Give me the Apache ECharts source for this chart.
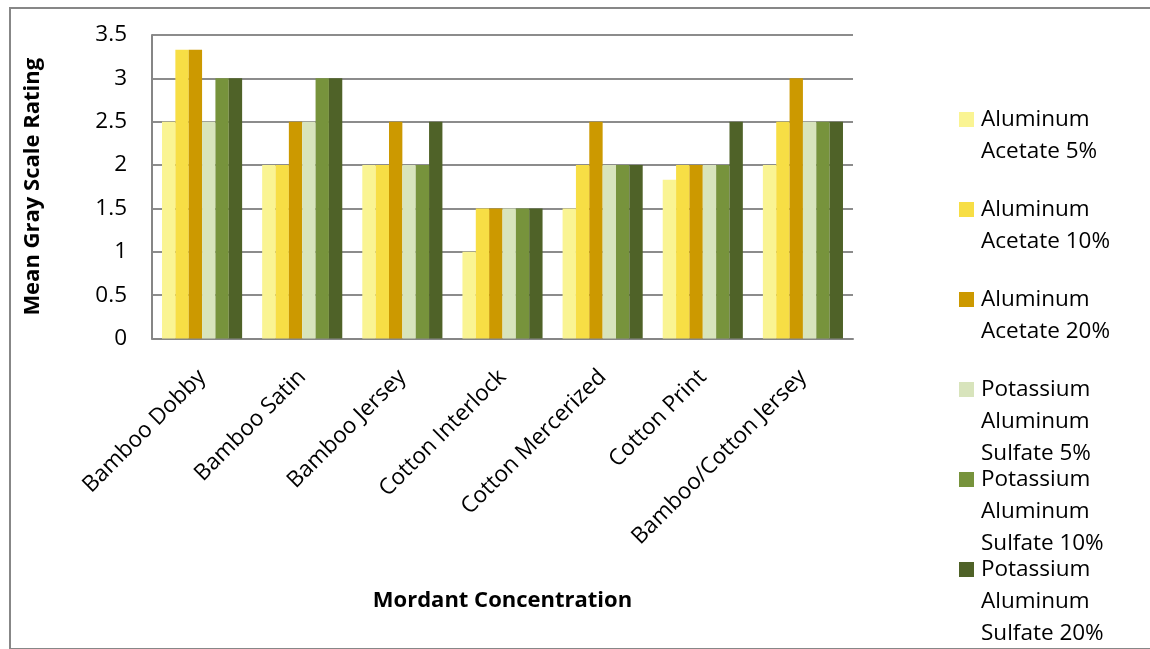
<!DOCTYPE html>
<html>
<head>
<meta charset="utf-8">
<title>Mean Gray Scale Rating by Mordant Concentration</title>
<script src="https://cdn.jsdelivr.net/npm/echarts@6/dist/echarts.min.js"></script>
<style>
  html, body { margin: 0; padding: 0; background: #ffffff; }
  #chart { width: 1150px; height: 649px; }
</style>
</head>
<body>
<div id="chart"></div>
<script>
// Fabric types along the x axis
const fabrics = [
  'Bamboo Dobby', 'Bamboo Satin', 'Bamboo Jersey', 'Cotton Interlock',
  'Cotton Mercerized', 'Cotton Print', 'Bamboo/Cotton Jersey'
];

// Mordant treatments (one series each) and their wrapped legend labels
const mordants = [
  'Aluminum Acetate 5%', 'Aluminum Acetate 10%', 'Aluminum Acetate 20%',
  'Potassium Aluminum Sulfate 5%', 'Potassium Aluminum Sulfate 10%', 'Potassium Aluminum Sulfate 20%'
];
const mordantLines = [
  ['Aluminum', 'Acetate 5%'],
  ['Aluminum', 'Acetate 10%'],
  ['Aluminum', 'Acetate 20%'],
  ['Potassium', 'Aluminum', 'Sulfate 5%'],
  ['Potassium', 'Aluminum', 'Sulfate 10%'],
  ['Potassium', 'Aluminum', 'Sulfate 20%']
];

// Mean gray scale ratings per fabric, one array per mordant
const aluminumAcetate5 = [2.5, 2, 2, 1, 1.5, 1.83, 2];
const aluminumAcetate10 = [3.33, 2, 2, 1.5, 2, 2, 2.5];
const aluminumAcetate20 = [3.33, 2.5, 2.5, 1.5, 2.5, 2, 3];
const potassiumSulfate5 = [2.5, 2.5, 2, 1.5, 2, 2, 2.5];
const potassiumSulfate10 = [3, 3, 2, 1.5, 2, 2, 2.5];
const potassiumSulfate20 = [3, 3, 2.5, 1.5, 2, 2.5, 2.5];

// Rating axis ticks
const ratingMin = 0;
const ratingMax = 3.5;
const ratingStep = 0.5;

const seriesValues = [
  aluminumAcetate5, aluminumAcetate10, aluminumAcetate20,
  potassiumSulfate5, potassiumSulfate10, potassiumSulfate20
];
const palette = ['#FAF493', '#F7DE45', '#CC9900', '#D8E4BC', '#77933C', '#4F6228'];

const FONT = '"Open Sans", "Noto Sans", sans-serif';
const LINE_H = 32;
const LEGEND_ROWS = 3;

const chart = echarts.init(document.getElementById('chart'), null, { renderer: 'canvas' });

chart.setOption({
  backgroundColor: '#ffffff',
  animation: false,
  color: palette,
  textStyle: { fontFamily: FONT, color: '#000000' },
  graphic: [{
    type: 'rect',
    left: 7.5,
    top: 5.5,
    shape: { width: 1160, height: 641 },
    style: { fill: 'none', stroke: '#878787', lineWidth: 2 },
    silent: true
  }],
  grid: { left: 152, right: 297, top: 35, bottom: 310.5, containLabel: false },
  legend: {
    orient: 'vertical',
    left: 959,
    top: 103.5,
    height: 560,
    padding: 0,
    itemWidth: 17,
    itemHeight: 90,
    itemGap: -6,
    selectedMode: false,
    // 15px square at the top-left of a tall item box, level with the first text line
    icon: 'path://M0,0L0,0M0,5.5L15,5.5L15,20.5L0,20.5ZM17,90L17,90',
    textStyle: { fontFamily: FONT, fontSize: 22.5, color: '#000000', lineHeight: LINE_H },
    data: mordants,
    formatter: function (name) {
      const lines = mordantLines[mordants.indexOf(name)].slice();
      // pad every entry to the same number of rows so the first row stays level with the square
      while (lines.length < LEGEND_ROWS) lines.push(' ');
      return lines.join('\n');
    }
  },
  xAxis: {
    type: 'category',
    data: fabrics,
    name: 'Mordant Concentration',
    nameLocation: 'middle',
    nameGap: 251,
    nameTextStyle: { fontFamily: FONT, fontSize: 22, fontWeight: 'bold', color: '#000000' },
    axisLine: { show: true, lineStyle: { color: '#868686', width: 2 } },
    axisTick: { show: false },
    axisLabel: {
      rotate: 45,
      interval: 0,
      margin: 35,
      fontFamily: FONT,
      fontSize: 22.5,
      color: '#000000'
    },
    splitLine: { show: false }
  },
  yAxis: {
    type: 'value',
    min: ratingMin,
    max: ratingMax,
    interval: ratingStep,
    name: 'Mean Gray Scale Rating',
    nameLocation: 'middle',
    nameGap: 108,
    nameTextStyle: { fontFamily: FONT, fontSize: 22, fontWeight: 'bold', color: '#000000' },
    axisLine: { show: true, lineStyle: { color: '#868686', width: 2 } },
    axisTick: { show: false },
    axisLabel: { margin: 25, fontFamily: FONT, fontSize: 22.5, color: '#000000' },
    splitLine: { show: true, lineStyle: { color: '#8c8c8c', width: 2 } }
  },
  series: mordants.map((name, i) => ({
    name: name,
    type: 'bar',
    data: seriesValues[i],
    barGap: '0%',
    barCategoryGap: '20%',
    itemStyle: { color: palette[i] }
  }))
});
</script>
</body>
</html>
